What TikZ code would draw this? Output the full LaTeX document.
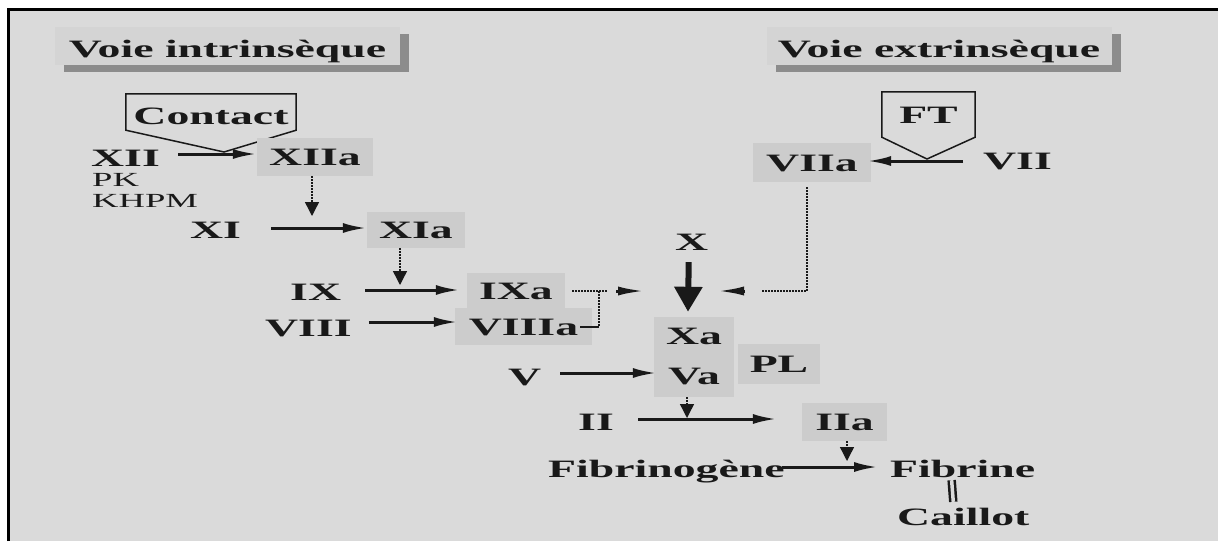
\documentclass[tikz,border=0pt]{standalone}
\usepackage{fontspec}
\setmainfont{Liberation Serif}[FakeStretch=1.83]
\usetikzlibrary{arrows.meta,shadows,calc}
\definecolor{bgc}{RGB}{218,218,218}
\definecolor{hbc}{RGB}{204,204,204}
\definecolor{ttc}{RGB}{212,212,212}
\definecolor{shc}{RGB}{140,140,140}
\definecolor{ink}{RGB}{25,25,25}
\begin{document}
\begin{tikzpicture}[x=1pt,y=-1pt,
  lbl/.style={font=\bfseries\fontsize{25}{30}\selectfont, inner sep=0pt, text height=17pt, text depth=0pt, anchor=base west, text=ink},
  sml/.style={font=\fontsize{20}{24}\selectfont, inner sep=0pt, text height=13pt, text depth=0pt, anchor=base west, text=ink},
  bx/.style={font=\bfseries\fontsize{25}{30}\selectfont, inner sep=0pt, text height=17pt, text depth=0pt, text=ink},
  hlbox/.style={bx, fill=hbc},
  ttl/.style={bx, fill=ttc, minimum width=345pt, minimum height=38pt, drop shadow={opacity=1, fill=shc, shadow xshift=9pt, shadow yshift=-7pt}},
  arr/.style={draw=ink, line width=3pt, -{Latex[length=24pt,width=10pt]}},
  darr/.style={draw=ink, line width=1.4pt, dash pattern=on 1.5pt off 1.5pt, -{Triangle[length=14pt,width=14pt]}},
  dotline/.style={draw=ink, line width=1.4pt, dash pattern=on 1.5pt off 1.5pt},
  penta/.style={draw=ink, line width=1.5pt}
]
\useasboundingbox (0,0) rectangle (1218,541);
\fill[white] (0,0) rectangle (1218,541);
\fill[bgc] (8,9) rectangle (1218,541);
\draw[line width=3pt, black] (8,541) -- (8,9) -- (1218,9);

% titles
\node[ttl] (ti) at (227.5,46) {\raisebox{-2.5pt}{Voie intrinsèque}};
\node[ttl] (te) at (939,46) {\raisebox{-2.5pt}{Voie extrinsèque}};

% contact / FT
\node[bx, minimum width=170pt, minimum height=36pt] (ct) at (211,112) {\raisebox{-3.5pt}{Contact}};
\coordinate (ctap) at (224,152);
\draw[penta] (ct.south west) -- (ct.north west) -- (ct.north east) -- (ct.south east) -- (ctap) -- cycle;
\node[bx, minimum width=93pt, minimum height=45pt] (ft) at (928.5,114.5) {FT};
\coordinate (ftap) at (927,159);
\draw[penta] (ft.south west) -- (ft.north west) -- (ft.north east) -- (ft.south east) -- (ftap) -- cycle;

% highlighted boxes
\node[hlbox, minimum width=116pt, minimum height=38pt] (XIIa) at (315,157) {XIIa};
\node[hlbox, minimum width=98pt, minimum height=36pt] (XIa) at (416,230) {XIa};
\node[hlbox, minimum width=98pt, minimum height=35pt] (IXa) at (516,290.5) {IXa};
\node[hlbox, minimum width=137pt, minimum height=37pt] (VIIIa) at (523.5,326.5) {VIIIa};
\node[hlbox, minimum width=80pt, minimum height=38pt] (Xa) at (694,336) {Xa};
\node[hlbox, minimum width=80pt, minimum height=42pt] (Va) at (694,376) {Va};
\node[hlbox, minimum width=82pt, minimum height=40pt] (PL) at (779,364) {PL};
\node[hlbox, minimum width=85pt, minimum height=38pt] (IIa) at (844.5,422) {IIa};
\node[hlbox, minimum width=118pt, minimum height=39pt] (VIIa) at (812,162.5) {VIIa};

% plain labels
\node[lbl] (XII) at (91,166) {XII};
\node[sml] (PK) at (92,186) {PK};
\node[sml] (KHPM) at (92,207) {KHPM};
\node[lbl] (XI) at (190,238) {XI};
\node[lbl] (IX) at (290,300) {IX};
\node[lbl] (VIII) at (265,336) {VIII};
\node[lbl] (X) at (675,250) {X};
\node[lbl] (V) at (508,385) {V};
\node[lbl] (II) at (578,430) {II};
\node[lbl] (Fg) at (548,477) {Fibrinogène};
\node[lbl] (Fb) at (890,477) {Fibrine};
\node[lbl] (Cl) at (897,525) {Caillot};
\node[lbl] (VII) at (983,169) {VII};

% solid arrows
\draw[arr] ([xshift=18pt,yshift=3.5pt]XII.east) -- ([yshift=3pt]XIIa.west);
\draw[arr] ([xshift=30pt,yshift=1.5pt]XI.east) -- ([yshift=2pt]XIa.west);
\draw[arr] ([xshift=24pt,yshift=1.5pt]IX.east) -- ([xshift=-7pt,yshift=0.5pt]IXa.west);
\draw[arr] ([xshift=17pt,yshift=5.5pt]VIII.east) -- ([xshift=3pt,yshift=4.5pt]VIIIa.west);
\draw[arr] ([xshift=19pt,yshift=3.5pt]V.east) -- ([xshift=3pt,yshift=3pt]Va.west);
\draw[arr] ([xshift=24pt,yshift=2.5pt]II.east) -- ([xshift=-25pt,yshift=3pt]IIa.west);
\draw[arr] ([xshift=-3pt,yshift=1.5pt]Fg.east) -- ([xshift=-12pt,yshift=1.5pt]Fb.west);
\draw[arr] ([xshift=-20pt,yshift=-0.5pt]VII.west) -- ([xshift=-4pt,yshift=1.5pt]VIIa.east);

% dotted activation arrows
\coordinate (t1) at (312,216);
\draw[darr] ([xshift=-3pt]XIIa.south) -- (t1);
\coordinate (t2) at (400,285);
\draw[darr] ([xshift=-16pt]XIa.south) -- (t2);
\coordinate (t3) at (687,418);
\draw[darr] ([xshift=-7pt]Va.south) -- (t3);
\coordinate (t4) at (847,461);
\draw[darr] ([xshift=2.5pt]IIa.south) -- (t4);

% central thick arrow
\draw[draw=ink, line width=6pt, -{Triangle[length=25pt,width=27pt]}] ([xshift=-3pt,yshift=-12pt]X.south) -- ([xshift=-6pt,yshift=5pt]Xa.north);

% tenase complex
\coordinate (lj) at (599,291);
\coordinate (le) at (607,291);
\coordinate (vj) at (599,327);
\draw[dotline] ([xshift=7pt,yshift=-0.5pt]IXa.east) -- (le);
\draw[dotline] (lj) -- (vj);
\draw[draw=ink, line width=2pt] ([xshift=-12pt,yshift=-0.5pt]VIIIa.east) -- (vj);
\coordinate (la1) at (616,291);
\coordinate (la2) at (645,291);
\draw[arr, -{Latex[length=27pt,width=9pt]}] (la1) -- (la2);

% extrinsic path
\coordinate (rc) at (807,291);
\coordinate (re) at (762,291);
\draw[dotline] ([xshift=-5pt,yshift=-5pt]VIIa.south) -- (rc) -- (re);
\coordinate (ra1) at (745,291);
\coordinate (ra2) at (717,291);
\draw[arr, -{Latex[length=27pt,width=9pt]}] (ra1) -- (ra2);

% fibrine - caillot
\draw[draw=ink, double=bgc, double distance=3.5pt, line width=2.5pt] ([xshift=-11pt,yshift=-3pt]Fb.south) -- ([xshift=-10pt,yshift=6pt]Cl.north);
\end{tikzpicture}
\end{document}
